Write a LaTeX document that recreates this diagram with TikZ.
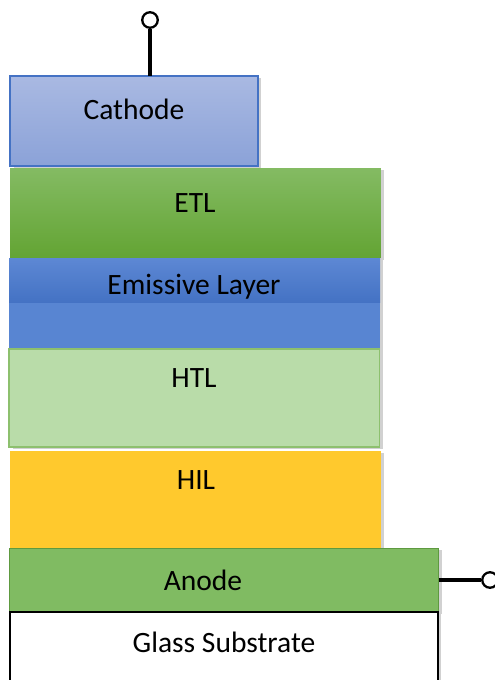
\documentclass[tikz,border=0pt]{standalone}
\usepackage{fontspec}
\setmainfont{Carlito}
\usetikzlibrary{shadows}

\definecolor{cathtop}{HTML}{A9B9E2}
\definecolor{cathbot}{HTML}{8BA2D8}
\definecolor{cathline}{HTML}{4472C4}
\definecolor{etltop}{HTML}{84BB63}
\definecolor{etlbot}{HTML}{63A433}
\definecolor{emlfill}{HTML}{5885D2}
\definecolor{emltop}{HTML}{5D88D4}
\definecolor{emlbot}{HTML}{4472C4}
\definecolor{htlfill}{HTML}{B9DCA9}
\definecolor{htlline}{HTML}{8DC06E}
\definecolor{hilfill}{HTML}{FFC92D}
\definecolor{anofill}{HTML}{80BB62}
\definecolor{anoline}{HTML}{5E9A40}

\tikzset{
  layer/.style={rectangle, anchor=north west, inner sep=0pt, outer sep=0pt,
    drop shadow={shadow xshift=2pt, shadow yshift=-1pt, opacity=0.18, fill=black}},
  lbl/.style={font=\fontsize{16.8}{20}\selectfont, text=black},
  wire/.style={line width=2.6pt},
  term/.style={circle, draw, line width=1.3pt, fill=white, minimum size=0.31cm, inner sep=0pt}
}

\begin{document}
\begin{tikzpicture}[x=0.02cm, y=-0.02cm]
  \useasboundingbox (0,0) rectangle (494,680);
  % stack of layers
  \node[layer, draw=cathline, line width=0.8pt, top color=cathtop, bottom color=cathbot,
    minimum width=4.96cm, minimum height=1.8cm] (cathode) at (10,76) {};
  \node[layer, top color=etltop, bottom color=etlbot,
    minimum width=7.42cm, minimum height=1.8cm] (etl) at (10,168) {};
  \node[layer, fill=emlfill, minimum width=7.42cm, minimum height=1.82cm] (eml) at (9,258) {};
  \fill[top color=emltop, bottom color=emlbot] (9,258) rectangle (380,302);
  \node[layer, fill=htlfill, draw=htlline, line width=0.6pt,
    minimum width=7.42cm, minimum height=1.96cm] (htl) at (9,349) {};
  \node[layer, fill=hilfill, minimum width=7.42cm, minimum height=1.94cm] (hil) at (10,451) {};
  \node[layer, fill=anofill, draw=anoline, line width=0.5pt,
    minimum width=8.6cm, minimum height=1.28cm] (anode) at (9,548) {};
  \node[layer, fill=white, draw=black, line width=1pt, drop shadow={opacity=0},
    minimum width=8.56cm, minimum height=1.5cm] (glass) at (10,612) {};
  % labels
  \node[lbl] (cathode-t) at (134,109) {Cathode};
  \node[lbl] (etl-t) at (195,203) {ETL};
  \node[lbl] (eml-t) at (194,287) {Emissive Layer};
  \node[lbl] (htl-t) at (194,378) {HTL};
  \node[lbl] (hil-t) at (196,480) {HIL};
  \node[lbl] (anode-t) at (203,580) {Anode};
  \node[lbl] (glass-t) at (224,642) {Glass Substrate};
  % terminals
  \node[term] (ctop) at (150,20) {};
  \draw[wire] (cathode.north -| ctop) -- (ctop);
  \node[term] (aright) at (490,580) {};
  \draw[line width=1.8pt] (anode.east |- aright) -- (aright);
\end{tikzpicture}
\end{document}
